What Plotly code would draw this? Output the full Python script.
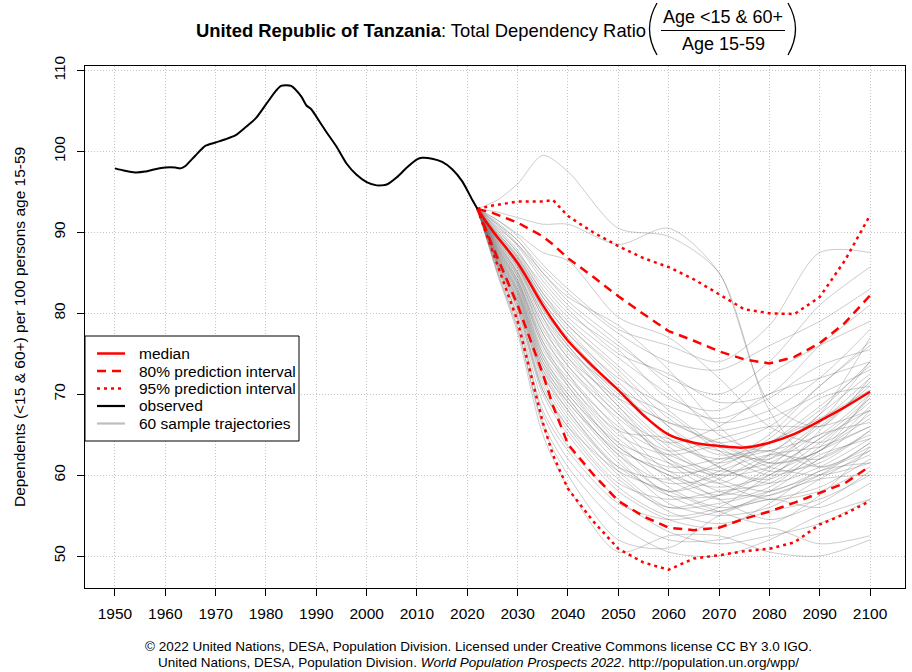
import plotly.graph_objects as go

# ---------------- data ----------------
obs_years = [1950, 1952, 1954, 1956, 1958, 1960, 1962, 1963, 1964, 1966, 1968, 1970,
             1972, 1974, 1976, 1978, 1980, 1982, 1983, 1985, 1987, 1988, 1989, 1990,
             1992, 1994, 1996, 1998, 2000, 2002, 2004, 2006, 2008, 2010, 2011, 2013,
             2015, 2017, 2019, 2021, 2022]
obs_values = [97.9, 97.6, 97.4, 97.5, 97.8, 98.0, 98.0, 97.9, 98.2, 99.5, 100.7, 101.1,
              101.5, 102.0, 103.0, 104.1, 105.8, 107.5, 108.1, 108.1, 106.8, 105.7, 105.2, 104.3,
              102.4, 100.6, 98.5, 97.1, 96.2, 95.8, 95.9, 96.8, 98.0, 99.0, 99.2, 99.1,
              98.7, 97.8, 96.3, 94.0, 92.9]

band_years = [2022, 2025, 2030, 2035, 2037, 2040, 2045, 2050, 2055, 2060, 2065, 2070,
              2075, 2080, 2085, 2090, 2095, 2100]
median = [92.9, 90.2, 86.2, 81.0, 79.1, 76.6, 73.4, 70.5, 67.4, 65.0, 64.0, 63.6,
          63.4, 64.0, 65.1, 66.7, 68.4, 70.3]
lo80 = [92.9, 88.3, 81.0, 72.5, 68.6, 63.8, 60.1, 56.8, 54.9, 53.5, 53.2, 53.5,
        54.6, 55.5, 56.6, 57.8, 59.0, 61.1]
hi80 = [92.9, 92.4, 91.2, 89.5, 88.5, 86.8, 84.5, 82.1, 79.9, 77.8, 76.6, 75.3,
        74.3, 73.8, 74.6, 76.3, 78.8, 82.2]
lo95 = [92.9, 87.7, 79.0, 66.5, 62.5, 58.3, 54.3, 50.9, 49.2, 48.3, 49.7, 50.1,
        50.6, 50.9, 51.7, 53.9, 55.2, 56.8]
hi95 = [92.9, 93.3, 93.8, 93.8, 94.0, 92.0, 90.0, 88.3, 86.8, 85.7, 84.2, 82.4,
        80.5, 80.0, 79.9, 82.0, 86.5, 92.1]

sample_years = [2022, 2026, 2030, 2035, 2040, 2050, 2060, 2070, 2080, 2090, 2100]
trajectories = [
    [92.9, 94.0, 96.0, 99.5, 97.5, 90.5, 89.5, 85.0, 68.0, 61.0, 64.0],
    [92.9, 92.5, 91.8, 91.0, 91.0, 88.5, 90.5, 85.0, 69.0, 66.0, 72.0],
    [92.9, 91.5, 89.5, 86.0, 83.0, 78.0, 76.0, 74.0, 78.5, 87.5, 87.5],
    [92.9, 91.0, 88.5, 84.5, 81.0, 76.0, 72.0, 70.0, 74.0, 81.0, 85.7],
    [92.9, 91.2, 89.0, 85.5, 82.5, 77.5, 74.0, 73.0, 76.0, 79.0, 83.0],
    [92.9, 90.8, 88.3, 84.0, 80.5, 75.0, 72.5, 69.0, 70.0, 76.0, 81.0],
    [92.9, 90.5, 87.8, 83.0, 79.5, 74.5, 70.0, 66.5, 68.0, 72.0, 78.0],
    [92.9, 90.3, 87.5, 82.5, 78.5, 73.0, 67.0, 64.0, 66.0, 71.0, 76.5],
    [92.9, 90.0, 87.0, 82.0, 78.0, 71.5, 66.0, 62.5, 64.0, 68.0, 74.0],
    [92.9, 89.8, 86.8, 81.5, 77.5, 72.0, 68.5, 67.0, 69.5, 73.5, 75.5],
    [92.9, 89.6, 86.5, 81.0, 77.0, 70.5, 65.0, 63.0, 62.0, 66.0, 71.0],
    [92.9, 89.5, 86.3, 80.5, 76.5, 70.0, 66.5, 65.5, 67.0, 70.0, 73.0],
    [92.9, 89.4, 86.0, 80.0, 76.0, 69.0, 63.5, 60.0, 61.0, 64.5, 69.5],
    [92.9, 89.2, 85.8, 79.5, 75.5, 70.5, 67.5, 63.0, 60.0, 62.0, 68.0],
    [92.9, 89.0, 85.5, 79.0, 75.0, 68.5, 62.0, 59.0, 62.5, 67.5, 72.5],
    [92.9, 88.8, 85.2, 78.5, 74.5, 67.5, 64.0, 66.0, 70.0, 72.0, 74.0],
    [92.9, 88.7, 85.0, 78.0, 74.0, 68.0, 61.5, 58.0, 57.5, 60.0, 64.0],
    [92.9, 88.5, 84.8, 77.5, 73.5, 66.5, 60.5, 61.0, 64.5, 69.5, 71.0],
    [92.9, 88.4, 84.5, 77.0, 73.0, 67.0, 63.0, 64.5, 66.0, 66.0, 68.0],
    [92.9, 88.2, 84.2, 76.5, 72.5, 65.5, 59.5, 57.0, 58.5, 63.0, 67.0],
    [92.9, 88.0, 84.0, 76.0, 72.0, 66.0, 62.5, 60.5, 61.5, 65.0, 66.5],
    [92.9, 87.8, 83.7, 75.5, 71.5, 64.5, 61.0, 62.0, 63.0, 61.0, 63.5],
    [92.9, 87.6, 83.4, 75.0, 71.0, 64.0, 58.5, 56.0, 57.0, 58.5, 62.0],
    [92.9, 87.4, 83.0, 74.5, 70.5, 63.5, 60.0, 58.5, 60.0, 64.0, 69.0],
    [92.9, 87.2, 82.7, 74.0, 70.0, 63.0, 57.5, 55.5, 58.0, 62.0, 65.0],
    [92.9, 87.0, 82.4, 73.5, 69.5, 62.5, 59.0, 60.0, 64.0, 67.0, 70.5],
    [92.9, 86.8, 82.0, 73.0, 69.0, 62.0, 56.5, 55.0, 56.0, 59.5, 63.0],
    [92.9, 86.6, 81.6, 72.5, 68.0, 61.0, 58.0, 59.5, 62.5, 63.5, 66.0],
    [92.9, 86.4, 81.2, 72.0, 67.0, 60.0, 55.5, 54.0, 55.5, 57.0, 60.0],
    [92.9, 86.2, 80.8, 71.0, 66.0, 59.0, 57.0, 58.0, 59.0, 62.5, 64.5],
    [92.9, 86.0, 80.3, 70.0, 65.0, 58.0, 54.5, 53.5, 56.5, 60.5, 61.5],
    [92.9, 85.7, 79.8, 69.0, 63.5, 57.0, 53.0, 51.5, 52.5, 54.0, 57.0],
    [92.9, 85.5, 79.0, 67.5, 62.0, 55.5, 52.0, 52.0, 53.5, 51.5, 52.5],
    [92.9, 85.2, 78.3, 66.0, 60.0, 52.0, 51.0, 55.0, 57.0, 56.0, 59.0],
    [92.9, 84.8, 77.5, 65.0, 58.5, 50.5, 52.5, 52.5, 50.5, 50.0, 52.0],
    [92.9, 91.5, 89.8, 87.5, 86.5, 79.5, 77.0, 72.0, 66.0, 64.0, 67.5],
    [92.9, 91.0, 89.0, 85.0, 82.0, 78.5, 73.0, 66.0, 61.5, 63.0, 70.0],
    [92.9, 90.6, 88.5, 85.0, 81.5, 76.5, 71.0, 65.0, 63.0, 67.5, 77.0],
    [92.9, 90.2, 87.5, 83.5, 80.0, 75.5, 69.5, 68.0, 72.5, 76.0, 79.0],
    [92.9, 89.9, 87.2, 82.5, 79.0, 73.5, 68.0, 63.5, 60.5, 61.5, 65.5],
    [92.9, 89.7, 86.9, 82.0, 78.5, 72.5, 66.0, 61.0, 59.5, 63.5, 69.5],
    [92.9, 89.5, 86.6, 81.5, 77.5, 71.0, 64.5, 61.5, 64.0, 68.5, 73.5],
    [92.9, 89.3, 86.2, 80.5, 76.0, 69.5, 64.0, 62.0, 63.0, 65.0, 70.0],
    [92.9, 89.1, 85.9, 80.0, 75.5, 68.5, 63.0, 59.5, 58.0, 60.5, 63.0],
    [92.9, 88.9, 85.6, 79.5, 74.5, 69.5, 66.5, 64.0, 61.5, 63.0, 68.5],
    [92.9, 88.6, 85.0, 78.5, 73.5, 67.5, 62.0, 60.0, 62.0, 66.5, 72.0],
    [92.9, 88.3, 84.6, 77.5, 72.5, 65.0, 62.5, 63.5, 61.0, 60.0, 61.5],
    [92.9, 88.1, 84.1, 76.5, 71.5, 65.5, 64.5, 61.0, 59.0, 61.0, 64.5],
    [92.9, 87.9, 83.8, 76.0, 71.0, 63.5, 60.0, 57.5, 59.5, 65.5, 71.5],
    [92.9, 87.7, 83.5, 75.0, 70.0, 64.0, 61.5, 59.0, 57.0, 58.0, 61.0],
    [92.9, 87.5, 83.1, 74.5, 69.5, 62.5, 58.0, 60.5, 62.5, 62.0, 65.5],
    [92.9, 87.3, 82.8, 74.0, 69.0, 63.0, 60.5, 57.0, 54.5, 56.5, 60.5],
    [92.9, 87.1, 82.5, 73.5, 68.5, 61.5, 57.5, 57.5, 60.5, 64.5, 68.0],
    [92.9, 86.9, 82.2, 73.0, 68.0, 60.5, 56.0, 56.5, 58.0, 60.0, 62.5],
    [92.9, 86.7, 81.8, 72.5, 67.5, 61.0, 59.5, 61.5, 65.0, 71.0, 76.0],
    [92.9, 86.5, 81.5, 71.5, 66.5, 59.5, 56.0, 57.5, 61.0, 66.5, 74.0],
    [92.9, 86.3, 81.0, 70.5, 65.5, 58.5, 55.0, 56.0, 60.0, 63.0, 66.0],
    [92.9, 86.1, 80.5, 70.5, 66.0, 60.5, 58.0, 55.5, 54.0, 57.5, 63.5],
    [92.9, 85.9, 79.5, 68.0, 63.0, 56.5, 54.5, 55.5, 57.5, 59.5, 60.0],
    [92.9, 85.0, 78.0, 66.5, 61.0, 54.0, 50.5, 50.0, 52.0, 55.0, 57.0],
]

x_ticks = list(range(1950, 2101, 10))
y_ticks = list(range(50, 111, 10))

legend_labels = ["median", "80% prediction interval", "95% prediction interval",
                 "observed", "60 sample trajectories"]

# ---------------- layout helpers ----------------
W, H = 912, 672
ML, MR, MT, MB = 85, 7, 66, 84
FONT = "Liberation Sans, Arial, Helvetica, sans-serif"


def px(x):
    return (x - ML) / (W - ML - MR)


def py(y):
    return (H - MB - y) / (H - MT - MB)


RED = "#FF0000"
DOT = "3px,4px"
DASH = "9px,6px"
GRAY = "rgba(105,105,105,0.34)"

fig = go.Figure()

# sample trajectories
for traj in trajectories:
    fig.add_trace(go.Scatter(
        x=sample_years, y=traj, mode="lines",
        line=dict(color=GRAY, width=1, shape="spline", smoothing=0.8),
        name=legend_labels[4], showlegend=False, hoverinfo="skip"))

for vals, dash in [(lo95, DOT), (hi95, DOT), (lo80, DASH), (hi80, DASH)]:
    fig.add_trace(go.Scatter(x=band_years, y=vals, mode="lines",
                             line=dict(color=RED, width=2.5, dash=dash),
                             showlegend=False))
fig.add_trace(go.Scatter(x=band_years, y=median, mode="lines",
                         line=dict(color=RED, width=2.5, shape="spline"),
                         showlegend=False, name=legend_labels[0]))
fig.add_trace(go.Scatter(x=obs_years, y=obs_values, mode="lines",
                         line=dict(color="black", width=2, shape="spline", smoothing=0.6),
                         showlegend=False, name=legend_labels[3]))

axis_common = dict(
    showline=True, mirror=True, linecolor="black", linewidth=1,
    ticks="outside", ticklen=7, tickcolor="black", tickwidth=1,
    showgrid=True, gridcolor="#c4c4c4", gridwidth=1, griddash="1px,2px",
    zeroline=False, tickfont=dict(size=15.5, color="black", family=FONT),
)

fig.update_layout(
    width=W, height=H,
    margin=dict(l=ML, r=MR, t=MT, b=MB, pad=0),
    paper_bgcolor="white", plot_bgcolor="white",
    font=dict(family=FONT, color="black"),
    showlegend=False,
    xaxis=dict(range=[1944.05, 2106.95], tickvals=x_ticks, ticklabelstandoff=4, **axis_common),
    yaxis=dict(range=[46.05, 110.55], tickvals=y_ticks, tickangle=-90,
               ticklabelstandoff=6, **axis_common),
)

annotations = [
    dict(text="<b>United Republic of Tanzania</b>: Total Dependency Ratio",
         x=px(648), y=py(30), xanchor="right", yanchor="middle",
         font=dict(size=18.4, family=FONT)),
    dict(text="Age <15 & 60+", x=px(723), y=py(17), xanchor="center", yanchor="middle",
         font=dict(size=18, family=FONT)),
    dict(text="Age 15-59", x=px(723), y=py(44), xanchor="center", yanchor="middle",
         font=dict(size=18, family=FONT)),
    dict(text="Dependents (<15 & 60+) per 100 persons age 15-59",
         x=px(19), y=0.5, xanchor="center", yanchor="middle", textangle=-90,
         font=dict(size=15.5, family=FONT)),
    dict(text="© 2022 United Nations, DESA, Population Division. Licensed under Creative Commons license CC BY 3.0 IGO.",
         x=px(478), y=py(646), xanchor="center", yanchor="middle",
         font=dict(size=13.5, family=FONT)),
    dict(text="United Nations, DESA, Population Division. <i>World Population Prospects 2022</i>. http://population.un.org/wpp/",
         x=px(478), y=py(662), xanchor="center", yanchor="middle",
         font=dict(size=13.5, family=FONT)),
]

# fraction bar and parentheses of the title
shapes = [
    dict(type="line", xref="paper", yref="paper",
         x0=px(661), x1=px(785), y0=py(30.5), y1=py(30.5),
         line=dict(color="black", width=1)),
    dict(type="path", xref="paper", yref="paper",
         path=f"M {px(657)},{py(3)} Q {px(642)},{py(29)} {px(657)},{py(55)}",
         line=dict(color="black", width=1.3)),
    dict(type="path", xref="paper", yref="paper",
         path=f"M {px(788)},{py(3)} Q {px(803)},{py(29)} {px(788)},{py(55)}",
         line=dict(color="black", width=1.3)),
]

# legend box (drawn like the R legend)
shapes.append(dict(type="rect", xref="paper", yref="paper",
                   x0=px(85), x1=px(299), y0=py(336), y1=py(441),
                   fillcolor="white", line=dict(color="black", width=1), layer="above"))
legend_styles = [
    dict(color=RED, width=2.5, dash="solid"),
    dict(color=RED, width=2.5, dash=DASH),
    dict(color=RED, width=2.5, dash=DOT),
    dict(color="black", width=2.2, dash="solid"),
    dict(color="#bebebe", width=2.2, dash="solid"),
]
legend_rows = [353.5, 371, 388.5, 406, 423.5]
for label, style, yy in zip(legend_labels, legend_styles, legend_rows):
    shapes.append(dict(type="line", xref="paper", yref="paper",
                       x0=px(97), x1=px(125), y0=py(yy), y1=py(yy),
                       line=style, layer="above"))
    annotations.append(dict(text=label, x=px(137), y=py(yy), xanchor="left",
                            yanchor="middle", font=dict(size=15.5, family=FONT)))

for a in annotations:
    a.update(xref="paper", yref="paper", showarrow=False)
fig.update_layout(annotations=annotations, shapes=shapes)

fig.write_html("out.html")
